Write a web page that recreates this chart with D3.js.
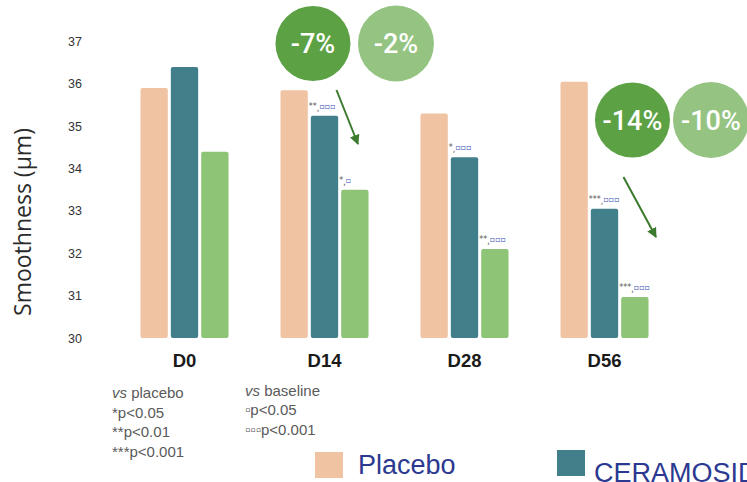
<!DOCTYPE html>
<html>
<head>
<meta charset="utf-8">
<script src="https://cdn.jsdelivr.net/npm/d3@7"></script>
<style>
  html, body { margin: 0; padding: 0; background: #ffffff; }
  svg { display: block; }
</style>
</head>
<body>
<svg id="chart" width="747" height="482"></svg>
<script>
// ---------------- data ----------------
const timepoints = ["D0", "D14", "D28", "D56"];
const seriesNames = ["Placebo", "CERAMOSIDES", "Ceramosides 2"];
const placeboValues = [35.9, 35.85, 35.3, 36.05];
const ceramosidValues = [36.4, 35.25, 34.27, 33.05];
const greenValues = [34.4, 33.5, 32.1, 30.97];
const yTicks = [30, 31, 32, 33, 34, 35, 36, 37];
// significance marks: [timepoint, series index, stars (vs placebo), squares (vs baseline)]
const sigMarks = [
  ["D14", 1, "**", "▫▫▫"],
  ["D14", 2, "*", "▫"],
  ["D28", 1, "*", "▫▫▫"],
  ["D28", 2, "**", "▫▫▫"],
  ["D56", 1, "***", "▫▫▫"],
  ["D56", 2, "***", "▫▫▫"]
];
// change badges: [timepoint, label, kind]
const badges = [
  ["D14", "-7%", "dark"],
  ["D14", "-2%", "light"],
  ["D56", "-14%", "dark"],
  ["D56", "-10%", "light"]
];
const notesPlacebo = [["vs", " placebo"], ["", "*p<0.05"], ["", "**p<0.01"], ["", "***p<0.001"]];
const notesBaseline = [["vs", " baseline"], ["", "▫p<0.05"], ["", "▫▫▫p<0.001"]];
const legendItems = ["Placebo", "CERAMOSIDES"];

// ---------------- setup ----------------
const colors = ["#f0c4a3", "#417f8a", "#8ec476"];
const svg = d3.select("#chart");
const rows = timepoints.map((t, i) => ({ t, vals: [placeboValues[i], ceramosidValues[i], greenValues[i]] }));

const x0 = d3.scaleBand().domain(timepoints).range([114.5, 674.5]).paddingInner(0.371).paddingOuter(0.1855);
const x1 = d3.scaleBand().domain([0, 1, 2]).range([0, x0.bandwidth()]).paddingInner(0.1);
const y = d3.scaleLinear().domain([30, 37]).range([338, 41.5]);

// y axis (labels only)
const yAxis = svg.append("g").attr("transform", "translate(82,0)")
  .call(d3.axisLeft(y).tickValues(yTicks).tickSize(0).tickPadding(0).tickFormat(d3.format("d")));
yAxis.select(".domain").remove();
yAxis.selectAll("text").attr("font-family", "Liberation Sans, Arial, sans-serif")
  .attr("font-size", 12.5).attr("fill", "#333");

svg.append("text")
  .attr("transform", "translate(31,222) rotate(-90)")
  .attr("text-anchor", "middle")
  .attr("font-family", "Open Sans, sans-serif")
  .attr("font-size", 23)
  .attr("fill", "#2b2b2b")
  .text("Smoothness (µm)");

// bars
const groups = svg.append("g").selectAll("g").data(rows).join("g")
  .attr("transform", d => `translate(${x0(d.t)},0)`);
groups.selectAll("rect").data(d => d.vals.map((v, i) => ({ v, i }))).join("rect")
  .attr("x", d => x1(d.i))
  .attr("width", x1.bandwidth())
  .attr("y", d => y(d.v))
  .attr("height", d => y(30) - y(d.v))
  .attr("rx", 2)
  .attr("fill", d => colors[d.i]);

// group labels
svg.append("g").selectAll("text").data(timepoints).join("text")
  .attr("x", d => x0(d) + x0.bandwidth() / 2)
  .attr("y", 367)
  .attr("text-anchor", "middle")
  .attr("font-family", "Liberation Sans, Arial, sans-serif")
  .attr("font-weight", "bold")
  .attr("font-size", 18.5)
  .attr("fill", "#1a1a1a")
  .text(d => d);

// significance marks
const valueOf = (t, i) => rows.find(r => r.t === t).vals[i];
const sig = svg.append("g").selectAll("text").data(sigMarks).join("text")
  .attr("x", d => x0(d[0]) + x1(d[1]) - 2)
  .attr("y", d => y(valueOf(d[0], d[1])) - 7)
  .attr("font-family", "DejaVu Sans, sans-serif")
  .attr("font-size", 8);
sig.append("tspan").attr("fill", "#555").text(d => d[2]);
sig.append("tspan").attr("fill", "#555").attr("dy", 2).text(",");
sig.append("tspan").attr("fill", "#3d4fb8").attr("dy", -2).text(d => d[3]);

// badges
const badgePos = {
  "D14": { dark: [32.5, 43.5], light: [115.5, 43.5] },
  "D56": { dark: [72, 120], light: [150.5, 120] }
};
const badgeG = svg.append("g").selectAll("g").data(badges).join("g")
  .attr("transform", d => `translate(${x0(d[0]) + badgePos[d[0]][d[2]][0]},${badgePos[d[0]][d[2]][1]})`);
badgeG.append("circle").attr("r", d => d[2] === "dark" ? 37.5 : 38)
  .attr("fill", d => d[2] === "dark" ? "#5da145" : "#95c482");
badgeG.append("text")
  .attr("text-anchor", "middle").attr("dy", "0.36em")
  .attr("font-family", "Roboto, sans-serif").attr("font-weight", 500)
  .attr("font-size", 27).attr("fill", "#ffffff")
  .text(d => d[1]);

// arrows
const defs = svg.append("defs");
defs.append("marker").attr("id", "ah").attr("viewBox", "0 0 10 10")
  .attr("refX", 9).attr("refY", 5).attr("markerWidth", 5).attr("markerHeight", 5)
  .attr("markerUnits", "strokeWidth").attr("orient", "auto")
  .append("path").attr("d", "M0,0 L10,5 L0,10 Z").attr("fill", "#3c7a2d");
const arrows = [
  ["D14", 56, 90, 77.5, 144],
  ["D56", 63, 177, 95.5, 237]
];
svg.append("g").selectAll("line").data(arrows).join("line")
  .attr("x1", d => x0(d[0]) + d[1]).attr("y1", d => d[2])
  .attr("x2", d => x0(d[0]) + d[3]).attr("y2", d => d[4])
  .attr("stroke", "#3c7a2d").attr("stroke-width", 2)
  .attr("marker-end", "url(#ah)");

// footnotes
function notes(list, x, ys) {
  const t = svg.append("g").selectAll("text").data(list).join("text")
    .attr("x", x).attr("y", (d, i) => ys[i])
    .attr("font-family", "Liberation Sans, Arial, sans-serif")
    .attr("font-size", 15).attr("fill", "#5a5a5a");
  t.append("tspan").attr("font-style", "italic").text(d => d[0]);
  t.append("tspan").text(d => d[1]);
}
notes(notesPlacebo, 112, [398, 418, 437, 457]);
notes(notesBaseline, 245, [396, 415, 435]);

// legend
const legendX = [315, 557];
const legendY = [452, 450];
const lg = svg.append("g").selectAll("g").data(legendItems).join("g");
lg.append("rect").attr("x", (d, i) => legendX[i]).attr("y", (d, i) => legendY[i])
  .attr("width", 28).attr("height", 26).attr("fill", (d, i) => colors[i]);
lg.append("text").attr("x", (d, i) => legendX[i] + (i === 0 ? 43 : 37))
  .attr("y", (d, i) => i === 0 ? 474 : 482)
  .attr("font-family", "Liberation Sans, Arial, sans-serif")
  .attr("font-size", 27).attr("fill", "#2b3990")
  .text(d => d);
</script>
</body>
</html>
